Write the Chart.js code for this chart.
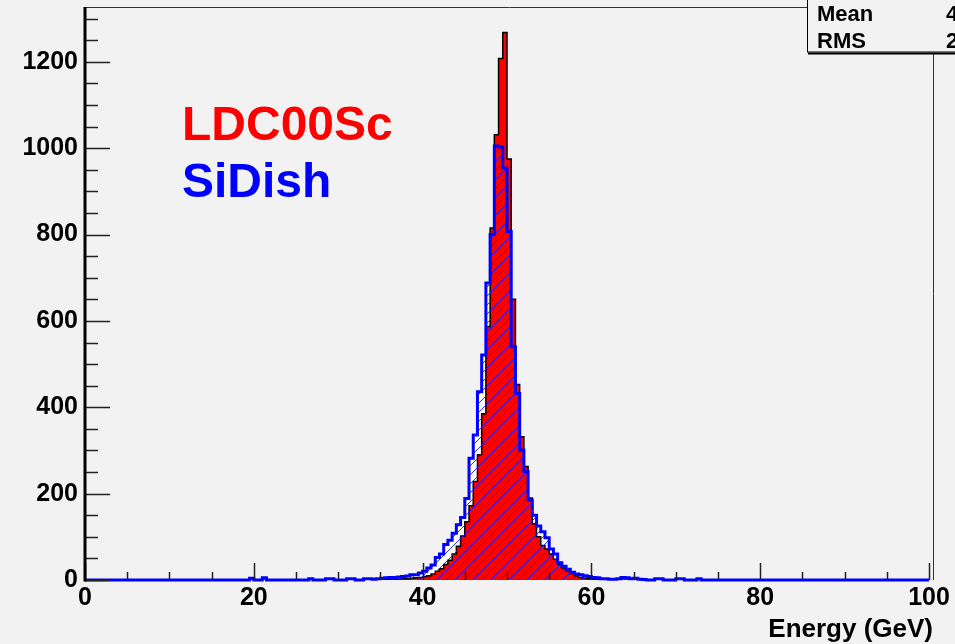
<!DOCTYPE html>
<html>
<head>
<meta charset="utf-8">
<script src="https://cdn.jsdelivr.net/npm/chart.js@4.4.0/dist/chart.umd.min.js"></script>
<style>
  html, body { margin: 0; padding: 0; background: #f2f2f2; }
  #chart { display: block; }
</style>
</head>
<body>
<canvas id="chart" width="955" height="644"></canvas>
<script>
// histogram binning (GeV)
const xMin = 0;
const xMax = 100;
const yMax = 1327;
const binWidth = 0.5;
const firstEdge = 18;   // left edge of the first bin listed below

// LDC00Sc, bins from 18.0 GeV, 0.5 GeV wide
const ldcCounts = [
  0, 0, 0, 0, 0, 0, 0, 0, 0, 0,
  0, 0, 0, 0, 0, 0, 0, 0, 0, 0,
  0, 0, 0, 0, 0, 0, 0, 0, 0, 0,
  0, 0, 0, 0, 0, 1, 1, 2, 2, 3,
  3, 4, 5, 6, 8, 10, 14, 20, 26, 36,
  46, 60, 78, 102, 135, 172, 228, 290, 385, 587,
  815, 1031, 1208, 1268, 975, 650, 453, 332, 263, 190,
  130, 100, 80, 72, 60, 48, 36, 28, 20, 15,
  10, 6, 4, 3, 2, 1, 1, 0, 0, 0,
  0, 0, 0, 0, 0, 0, 0, 0, 0, 0,
  0, 0, 0, 0, 0, 0, 0, 0, 0, 0,
  0, 0, 0, 0, 0, 0
];

// SiDish, same binning
const sidishCounts = [
  0, 0, 0, 4, 0, 0, 5, 0, 0, 0,
  0, 0, 0, 0, 0, 0, 0, 3, 0, 0,
  0, 3, 3, 0, 0, 0, 3, 3, 0, 0,
  3, 3, 2, 3, 4, 5, 6, 6, 7, 8,
  9, 12, 12, 16, 20, 28, 35, 52, 60, 82,
  92, 108, 128, 145, 189, 282, 336, 436, 521, 688,
  800, 1005, 1003, 954, 807, 540, 432, 301, 251, 185,
  150, 125, 112, 98, 72, 60, 40, 32, 25, 18,
  14, 12, 10, 8, 6, 5, 3, 3, 2, 2,
  3, 6, 5, 3, 4, 2, 1, 0, 0, 3,
  3, 0, 0, 0, 3, 3, 0, 0, 0, 3,
  0, 0, 0, 0, 0, 0
];

const xTickStep = 20;
const xMinorStep = 5;
const yTickStep = 200;
const yMinorStep = 50;

const FONT = '"Liberation Sans", Arial, Helvetica, sans-serif';

// step points: each bin value is held until the next edge
function toPoints(counts) {
  const pts = [{ x: xMin, y: 0 }];
  counts.forEach((c, i) => pts.push({ x: firstEdge + i * binWidth, y: c }));
  pts.push({ x: firstEdge + counts.length * binWidth, y: 0 });
  pts.push({ x: xMax, y: 0 });
  return pts;
}

function makeHatch(ctx) {
  const s = 9;
  const c = document.createElement('canvas');
  c.width = s;
  c.height = s;
  const g = c.getContext('2d');
  g.strokeStyle = 'rgba(20,20,255,0.9)';
  g.lineWidth = 1;
  g.beginPath();
  g.moveTo(0, s); g.lineTo(s, 0);
  g.moveTo(-1, 1); g.lineTo(1, -1);
  g.moveTo(s - 1, s + 1); g.lineTo(s + 1, s - 1);
  g.stroke();
  return ctx.createPattern(c, 'repeat');
}

// ROOT style frame, inside ticks, labels and stats box
const rootDecor = {
  id: 'rootDecor',
  afterDatasetsDraw(chart) {
    const { ctx, chartArea: a, scales: { x, y } } = chart;
    ctx.save();
    ctx.strokeStyle = '#222';
    ctx.lineWidth = 1.5;
    ctx.beginPath();
    for (let v = xMin; v <= xMax; v += xMinorStep) {
      const px = Math.round(x.getPixelForValue(v)) + 0.5;
      const len = v % xTickStep === 0 ? 17 : 8;
      ctx.moveTo(px, a.bottom);
      ctx.lineTo(px, a.bottom - len);
    }
    for (let v = 0; v <= yMax; v += yMinorStep) {
      const py = Math.round(y.getPixelForValue(v)) + 0.5;
      const len = v % yTickStep === 0 ? 25 : 13;
      ctx.moveTo(a.left, py);
      ctx.lineTo(a.left + len, py);
    }
    ctx.stroke();

    // frame
    ctx.lineWidth = 1;
    ctx.strokeStyle = '#333';
    ctx.beginPath();
    ctx.moveTo(a.left, a.top + 0.5);
    ctx.lineTo(933.5, a.top + 0.5);
    ctx.lineTo(933.5, a.bottom);
    ctx.stroke();

    ctx.strokeStyle = '#000';
    ctx.lineWidth = 3;
    ctx.beginPath();
    ctx.moveTo(a.left, a.top);
    ctx.lineTo(a.left, a.bottom + 1.5);
    ctx.stroke();
    ctx.restore();
  },
  afterDraw(chart) {
    const { ctx } = chart;
    ctx.save();
    ctx.font = 'bold 48px ' + FONT;
    ctx.textBaseline = 'alphabetic';
    ctx.fillStyle = '#ff0000';
    ctx.fillText('LDC00Sc', 182, 140);
    ctx.fillStyle = '#0000ff';
    ctx.fillText('SiDish', 182, 197);

    // stats box (cut off at the right edge, as in the original)
    ctx.fillStyle = '#f2f2f2';
    ctx.fillRect(807, -2, 160, 55);
    ctx.strokeStyle = '#000';
    ctx.lineWidth = 1;
    ctx.strokeRect(807.5, -2, 160, 54);
    ctx.lineWidth = 2;
    ctx.beginPath();
    ctx.moveTo(808, 53.5);
    ctx.lineTo(955, 53.5);
    ctx.stroke();
    ctx.fillStyle = '#000';
    ctx.font = 'bold 22px ' + FONT;
    ctx.fillText('Mean', 817, 21);
    ctx.fillText('RMS', 817, 48);
    ctx.fillText('49.26', 946, 21);
    ctx.fillText('2.713', 946, 48);

    // axis title, right-aligned on the frame
    ctx.font = 'bold 26px ' + FONT;
    ctx.textAlign = 'right';
    ctx.fillText('Energy (GeV)', 933, 637);
    ctx.restore();
  }
};

const canvas = document.getElementById('chart');
const ctx = canvas.getContext('2d');
const hatch = makeHatch(ctx);
const sidishPoints = toPoints(sidishCounts);
const ldcPoints = toPoints(ldcCounts);

new Chart(ctx, {
  type: 'line',
  data: {
    datasets: [
      {
        label: 'SiDish',
        data: sidishPoints,
        stepped: 'before',
        borderColor: '#0000ff',
        borderWidth: 3,
        backgroundColor: hatch,
        fill: 'origin',
        clip: 4,
        order: 1
      },
      {
        label: 'LDC00Sc',
        data: ldcPoints,
        stepped: 'before',
        borderColor: '#000000',
        borderWidth: 1.5,
        backgroundColor: '#ff0000',
        fill: 'origin',
        order: 2
      },
      {
        label: 'SiDish area',
        data: sidishPoints,
        stepped: 'before',
        borderWidth: 0,
        borderColor: 'rgba(0,0,0,0)',
        backgroundColor: '#ffffff',
        fill: 'origin',
        order: 3
      }
    ]
  },
  options: {
    responsive: false,
    animation: false,
    devicePixelRatio: 1,
    layout: { padding: { top: 7, right: 26, left: 0, bottom: 0 } },
    elements: {
      point: { radius: 0, hoverRadius: 0 },
      line: { tension: 0, borderJoinStyle: 'miter', borderCapStyle: 'butt' }
    },
    plugins: {
      legend: { display: false },
      tooltip: { enabled: false }
    },
    scales: {
      x: {
        type: 'linear',
        min: xMin,
        max: xMax,
        grid: { display: false, drawTicks: false },
        border: { display: false },
        ticks: {
          stepSize: xTickStep,
          padding: 3,
          maxRotation: 0,
          autoSkip: false,
          color: '#000',
          font: { family: FONT, size: 25, weight: 'bold' },
          callback: v => String(v)
        },
        afterFit(scale) {
          scale.height = 64;
          scale.paddingLeft = 0;
          scale.paddingRight = 0;
        }
      },
      y: {
        type: 'linear',
        min: 0,
        max: yMax,
        grid: { display: false, drawTicks: false },
        border: { display: false },
        ticks: {
          stepSize: yTickStep,
          includeBounds: false,
          padding: 7,
          color: '#000',
          font: { family: FONT, size: 25, weight: 'bold' },
          callback: v => String(v)
        },
        afterFit(scale) {
          scale.width = 85;
          scale.paddingTop = 0;
          scale.paddingBottom = 0;
        }
      }
    }
  },
  plugins: [rootDecor]
});
</script>
</body>
</html>
